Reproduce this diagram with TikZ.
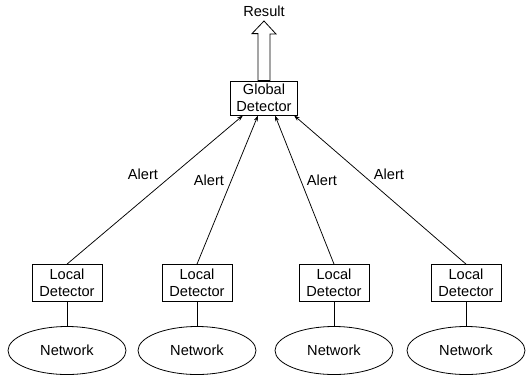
\documentclass[tikz,border=0pt]{standalone}
\usepackage{fontspec}
\setmainfont{Liberation Sans}
\usetikzlibrary{shapes.geometric,arrows.meta}
\begin{document}
\begin{tikzpicture}[x=1pt,y=-1pt,
  every node/.style={font=\fontsize{14.6}{16.5}\selectfont},
  detbox/.style={draw,line width=0.8pt,align=center,inner sep=0pt,
    minimum width=70pt,minimum height=37pt},
  netshape/.style={draw,line width=0.8pt,ellipse,inner sep=0pt,
    minimum width=118pt,minimum height=48pt},
  link/.style={line width=0.75pt},
  alertlink/.style={line width=0.75pt,-{Stealth[length=6pt,width=4pt]}}]
\useasboundingbox (0,0) rectangle (527,376);

% global detector and its result
\node[detbox,minimum width=67pt,minimum height=34pt] (gd) at (264,98) {Global\\Detector};
\node (res) at (264,11) {Result};
\draw[line width=0.8pt,fill=white]
  ([xshift=-6pt]gd.north) -- ++(0,-47) -- ++(-6,0) -- (264,21)
  -- ([xshift=12pt]gd.north |- 0,34) -- ++(-6,0) -- ([xshift=6pt]gd.north) -- cycle;

% local detectors and their networks
\foreach \i/\x in {1/67,2/197,3/334,4/466}{
  \node[detbox] (ld\i) at (\x,283) {Local\\Detector};
  \node[netshape] (net\i) at (\x,350.5) {Network};
  \draw[link] (ld\i.south) -- (net\i.north);
}

% alert connectors to the global detector
\coordinate (g1) at ([xshift=-21pt]gd.south);
\coordinate (g2) at ([xshift=-6pt]gd.south);
\coordinate (g3) at ([xshift=11pt]gd.south);
\coordinate (g4) at ([xshift=30pt]gd.south);
\foreach \i in {1,2,3,4}{
  \draw[alertlink] (ld\i.north) -- (g\i);
}
\node (a1) at (143,174) {Alert};
\node (a2) at (209,180) {Alert};
\node (a3) at (322,180) {Alert};
\node (a4) at (389,174) {Alert};
\end{tikzpicture}
\end{document}
